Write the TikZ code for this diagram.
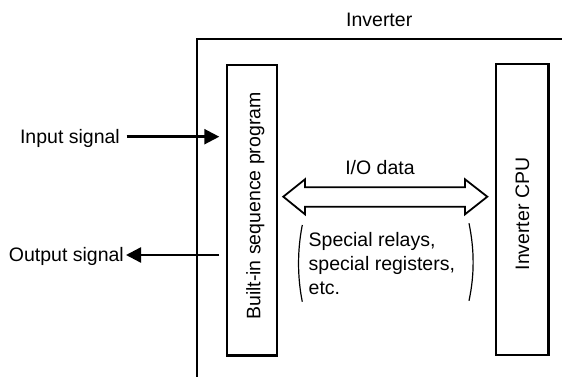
\documentclass[tikz,border=0pt]{standalone}
\usepackage{fontspec}
\setmainfont{Liberation Sans}
\usetikzlibrary{arrows.meta}
\begin{document}
\begin{tikzpicture}[x=1pt,y=-1pt,
  txt/.style={font=\fontsize{19.5}{24}\selectfont, inner sep=0pt},
  boxst/.style={draw, line width=2.4pt, inner sep=0pt},
  sig/.style={line width=2.4pt, -{Triangle[length=15pt,width=15pt]}},
  paren/.style={line width=1.2pt}]
\useasboundingbox (0,0) rectangle (562,377);
% outer frame
\draw[line width=2.4pt] (196.7,377) -- (196.7,39.3) -- (562,39.3);
\node[txt, anchor=base] (inv) at (379.2,26.7) {Inverter};
% boxes
\node[boxst, minimum width=50pt, minimum height=290.7pt] (seq) at (251.7,210.3) {};
\node[txt, rotate=90] (seqt) at (255.3,206) {Built-in sequence program};
\node[boxst, minimum width=52.3pt, minimum height=291pt] (cpu) at (522.2,209.5) {};
\node[txt, rotate=90] (cput) at (522.5,214) {Inverter CPU};
% signals
\node[txt, anchor=base east, inner xsep=6.7pt] (in) at (126.7,143.5) {Input signal};
\coordinate (inB) at (219.3,136.7);
\draw[sig] (inB -| in.east) -- (inB);
\node[txt, anchor=base east, inner xsep=2pt] (out) at (126,261.7) {Output signal};
\coordinate (outA) at (219,255);
\draw[sig] (outA) -- (outA -| out.east);
% I/O data double arrow
\node[txt, anchor=base] (io) at (380,175) {I/O data};
\draw[line width=1.8pt, line join=miter]
  (283.3,196.7) -- (305,179.3) -- (305,187.3) -- (465,187.3) -- (465,179.3)
  -- (487.3,196.7) -- (465,214.3) -- (465,206.7) -- (305,206.7) -- (305,214.3) -- cycle;
% special relays text
\node[txt, anchor=north west, align=left] (sp) at (308.5,232.5)
  {Special relays,\\special registers,\\etc.};
\draw[paren] (302.3,225) .. controls (297.3,250) and (297.3,277) .. (302.3,301.7);
\draw[paren] (469,223.3) .. controls (474.5,250) and (474.5,275) .. (469,300.7);
\end{tikzpicture}
\end{document}
